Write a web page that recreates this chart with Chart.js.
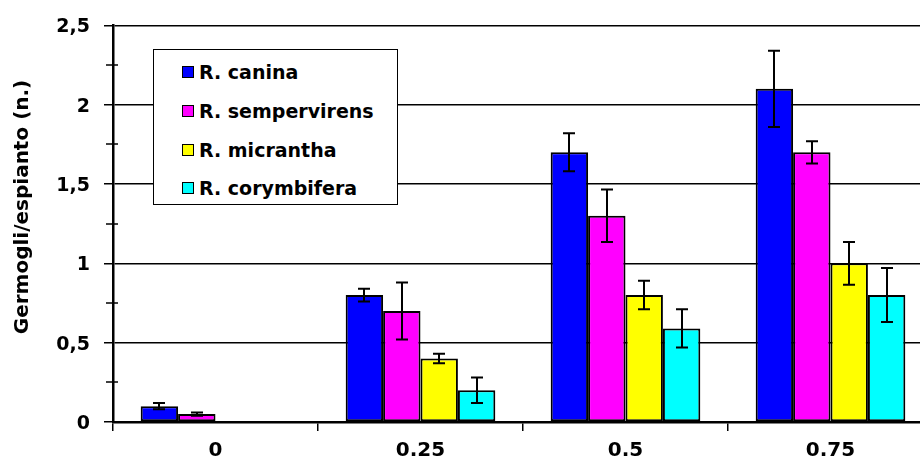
<!DOCTYPE html>
<html>
<head>
<meta charset="utf-8">
<title>Germogli/espianto</title>
<script src="https://cdn.jsdelivr.net/npm/chart.js@4.4.1/dist/chart.umd.min.js"></script>
<style>
    body { margin: 0; background: #fff; overflow: hidden; }
    #wrap { position: relative; width: 920px; height: 464px; overflow: hidden; }
    #chart { position: absolute; left: 0; top: 0; }
    #legend {
        position: absolute; left: 153px; top: 49px; width: 245px; height: 156px;
        border: 1.5px solid #000; background: #fff; box-sizing: border-box;
        padding-top: 3px;
        font: bold 19px "DejaVu Sans", sans-serif; color: #000;
    }
    .item { display: flex; align-items: center; height: 38.7px; padding-left: 28px; }
    .box { width: 10px; height: 10px; border: 1px solid #000; margin-right: 5px; }
</style>
</head>
<body>
<div id="wrap">
    <canvas id="chart" width="940" height="464"></canvas>
    <div id="legend"></div>
</div>
<script>
// Categories and tick labels
const categories = ["0", "0.25", "0.5", "0.75"];
const yTickLabels = ["0", "0,5", "1", "1,5", "2", "2,5"];
const yTitle = "Germogli/espianto (n.)";

// Series (means) and their error values
const seriesNames = ["R. canina", "R. sempervirens", "R. micrantha", "R. corymbifera"];
const canina = [0.1, 0.8, 1.7, 2.1];
const caninaErr = [0.02, 0.04, 0.12, 0.24];
const sempervirens = [0.05, 0.7, 1.3, 1.7];
const sempervirensErr = [0.01, 0.18, 0.165, 0.07];
const micrantha = [0, 0.4, 0.8, 1.0];
const micranthaErr = [0, 0.03, 0.09, 0.135];
const corymbifera = [0, 0.2, 0.59, 0.8];
const corymbiferaErr = [0, 0.08, 0.12, 0.17];

const colors = ["#0000ff", "#ff00ff", "#ffff00", "#00ffff"];
const values = [canina, sempervirens, micrantha, corymbifera];
const errors = [caninaErr, sempervirensErr, micranthaErr, corymbiferaErr];

Chart.defaults.font.family = '"DejaVu Sans", sans-serif';
Chart.defaults.font.weight = 'bold';
Chart.defaults.color = '#000';

// Draws the +/- error bars on top of every bar
const errorBars = {
    id: 'errorBars',
    afterDatasetsDraw(chart) {
        const { ctx, scales: { y } } = chart;
        ctx.save();
        ctx.strokeStyle = '#000';
        ctx.lineWidth = 2;
        chart.data.datasets.forEach((ds, i) => {
            chart.getDatasetMeta(i).data.forEach((bar, j) => {
                const v = ds.data[j];
                const e = ds.errors[j];
                const top = y.getPixelForValue(v + e);
                const bottom = y.getPixelForValue(v - e);
                const x = Math.round(bar.x);
                ctx.beginPath();
                ctx.moveTo(x, top); ctx.lineTo(x, bottom);
                ctx.moveTo(x - 6, top); ctx.lineTo(x + 6, top);
                ctx.moveTo(x - 6, bottom); ctx.lineTo(x + 6, bottom);
                ctx.stroke();
            });
        });
        ctx.restore();
    }
};

// Minor ticks on the value axis and the rotated axis title
const axisExtras = {
    id: 'axisExtras',
    afterDraw(chart) {
        const { ctx, scales: { y } } = chart;
        ctx.save();
        ctx.strokeStyle = '#000';
        ctx.lineWidth = 1.5;
        for (let v = 0.25; v < 2.5; v += 0.5) {
            const py = Math.round(y.getPixelForValue(v));
            ctx.beginPath();
            ctx.moveTo(y.right - 7, py);
            ctx.lineTo(y.right + 5, py);
            ctx.stroke();
        }
        ctx.translate(23, 207);
        ctx.rotate(-Math.PI / 2);
        ctx.font = 'bold 20px "DejaVu Sans", sans-serif';
        ctx.fillStyle = '#000';
        ctx.textAlign = 'center';
        ctx.textBaseline = 'middle';
        ctx.fillText(yTitle, 0, 0);
        ctx.restore();
    }
};

const chart = new Chart(document.getElementById('chart').getContext('2d'), {
    type: 'bar',
    data: {
        labels: categories,
        datasets: seriesNames.map((name, i) => ({
            label: name,
            data: values[i],
            errors: errors[i],
            backgroundColor: colors[i],
            borderColor: '#000',
            borderWidth: 2,
            borderSkipped: false,
            categoryPercentage: 0.73,
            barPercentage: 1
        }))
    },
    options: {
        responsive: false,
        animation: false,
        layout: { padding: { left: 0, right: 7, top: 22, bottom: 0 } },
        plugins: {
            legend: { display: false },
            tooltip: { enabled: false }
        },
        scales: {
            x: {
                ticks: { color: '#000', font: { size: 20, weight: 'bold' }, padding: 8 },
                grid: { offset: true, drawOnChartArea: false, color: '#000', lineWidth: 1.5, tickLength: 9 },
                border: { color: '#000', width: 2.5 },
                afterFit: s => { s.height = 42; }
            },
            y: {
                min: 0,
                max: 2.5,
                ticks: {
                    stepSize: 0.5,
                    color: '#000',
                    font: { size: 19, weight: 'bold' },
                    padding: 14,
                    labelOffset: 2,
                    callback: (v, i) => yTickLabels[i]
                },
                grid: { color: '#000', lineWidth: 1.5, tickLength: 9, tickColor: '#000' },
                border: { color: '#000', width: 2.5 },
                afterFit: s => { s.width = 113; }
            }
        }
    },
    plugins: [errorBars, axisExtras]
});

// Legend box built from the chart's datasets
function buildLegend() {
    const legend = document.getElementById('legend');
    chart.data.datasets.forEach(ds => {
        legend.innerHTML += `<div class="item"><span class="box" style="background:${ds.backgroundColor}"></span>${ds.label}</div>`;
    });
}
buildLegend();
</script>
</body>
</html>
